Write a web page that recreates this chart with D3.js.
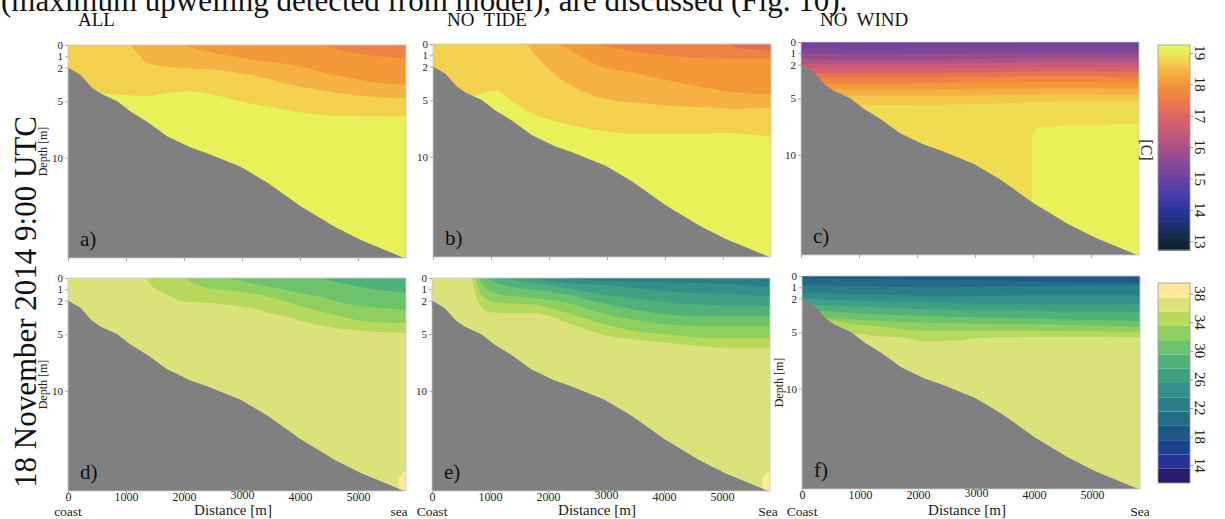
<!DOCTYPE html>
<html>
<head>
<meta charset="utf-8">
<script src="https://cdn.jsdelivr.net/npm/d3@7"></script>
<style>
  body { margin: 0; background: #fff; }
  svg { display: block; font-family: "Liberation Serif", "Times New Roman", serif; }
</style>
</head>
<body>
<div id="container"></div>
<script>
// ---- data ----
// shared seabed profile (distance [m], depth [m])
const seabedX = [0, 213, 415, 560, 850, 1077, 1365, 1710, 2113, 2400, 2976, 3437, 4013, 4590, 5050, 5800];
const seabedD = [2.0, 2.65, 3.8, 4.3, 5.0, 5.9, 6.8, 8.1, 9.1, 9.6, 10.8, 12.2, 14.3, 16.1, 17.3, 18.9];

const depthTicks = [0, 1, 2, 5, 10];
const distTicks = [0, 1000, 2000, 3000, 4000, 5000];
const tempTicks = [13, 14, 15, 16, 17, 18, 19];
const salTicks = [14, 18, 22, 26, 30, 34, 38];

// temperature colour map (thermal-like)
const tempStops  = [12.7, 13, 13.5, 14, 14.5, 15, 15.5, 16, 16.5, 17, 17.5, 18, 18.4, 18.7, 19, 19.25];
const tempColors = ["#0e2230", "#142838", "#1c2f70", "#2e349c", "#4a3ea8", "#6a42a0", "#8a4995", "#ab5188",
                    "#c65a78", "#dc6663", "#ee7b47", "#f49538", "#f5b343", "#f4cf4e", "#eaed55", "#e6f65c"];
// salinity colour bands (haline-like), 2-unit classes
const salThresholds = [13.5, 15.5, 17.5, 19.5, 21.5, 23.5, 25.5, 27.5, 29.5, 31.5, 33.5, 35.5, 37.5];
const salColors = ["#261e6a", "#28309a", "#1a458e", "#1d5889", "#246b87", "#2b7d88", "#338f88",
                   "#3ea184", "#50b27a", "#6cc36b", "#8ecf60", "#b6d95c", "#dbe27a", "#fde99c"];

// each band: value v, lower boundary [distance, depth] (filled from the surface)
// or [distance, top, bottom] for enclosed patches
const tempAllBase = 19.1;
const tempAll = [
  {v: 18.72, pts: [[0,4.6],[559,4.3],[1000,4.45],[1365,4.55],[1700,4.25],[2114,4.13],[2500,4.4],[2863,4.87],[3439,5.46],[4015,5.99],[4591,6.28],[5830,6.34]]},
  {v: 18.38, pts: [[1077,0],[1250,1.03],[1365,1.62],[1711,1.92],[2056,2.06],[2575,2.21],[3151,2.65],[3727,3.39],[4303,3.98],[4879,4.42],[5830,4.72]]},
  {v: 18.05, pts: [[1999,0],[2287,0.44],[2863,1.03],[3439,1.47],[4015,1.92],[4591,2.65],[5167,3.24],[5830,3.54]]},
  {v: 17.65, pts: [[4360,0],[4591,0.3],[5167,0.88],[5830,1.18]]}
];

const tempNoTideBase = 19.1;
const tempNoTide = [
  {v: 18.72, pts: [[0,5],[690,4.6],[1095,4.15],[1325,4.9],[1728,6.2],[2304,7.1],[2880,7.7],[3571,8.0],[4608,8.0],[4954,7.9],[5830,8.2]]},
  {v: 18.38, pts: [[1613,0],[1700,0.55],[1843,1.45],[2074,2.6],[2420,3.8],[2880,4.75],[3456,5.2],[4032,5.45],[4608,5.6],[5184,5.75],[5830,5.65]]},
  {v: 18.05, pts: [[2189,0],[2420,0.7],[2880,1.95],[3456,2.55],[4032,3.2],[4608,3.8],[5184,4.3],[5830,4.45]]},
  {v: 17.65, pts: [[2822,0],[3168,0.4],[3744,0.85],[4320,1.15],[5184,1.3],[5830,1.3]]},
  {v: 17.2,  pts: [[5126,0],[5300,0.4],[5830,0.55]]}
];

const tempNoWindBase = 18.82;
const tempNoWind = [
  {v: 19.1,  pts: [[3990,8.3,15],[4060,7.7,15],[4300,7.5,19],[5830,7.3,19]]},
  {v: 18.6,  pts: [[0,5.5],[1500,5.6],[3000,5.5],[4500,5.3],[5830,5.3]]},
  {v: 18.35, pts: [[0,4.8],[1500,4.8],[3000,4.75],[4500,4.65],[5830,4.7]]},
  {v: 18.05, pts: [[0,4.2],[1500,4.2],[3000,4.15],[4500,4.05],[5830,4.1]]},
  {v: 17.7,  pts: [[0,3.7],[1500,3.7],[3000,3.6],[4500,3.55],[5830,3.6]]},
  {v: 17.3,  pts: [[0,3.2],[1500,3.2],[3000,3.1],[4500,3.05],[5830,3.1]]},
  {v: 16.9,  pts: [[0,2.75],[1500,2.75],[3000,2.7],[4500,2.6],[5830,2.65]]},
  {v: 16.5,  pts: [[0,2.35],[1500,2.35],[3000,2.3],[4500,2.2],[5830,2.25]]},
  {v: 16.1,  pts: [[0,1.95],[1500,1.95],[3000,1.9],[4500,1.8],[5830,1.85]]},
  {v: 15.7,  pts: [[0,1.5],[1500,1.55],[3000,1.5],[4500,1.4],[5830,1.45]]},
  {v: 15.35, pts: [[0,1.05],[1500,1.1],[3000,1.05],[4500,1.0],[5830,1.0]]},
  {v: 15.1,  pts: [[0,0.55],[1500,0.6],[3000,0.55],[4500,0.5],[5830,0.5]]}
];

const salAllBase = 36.5;
const salAll = [
  {v: 38.5, pts: [[5700,17.8,19],[5830,17.0,19]]},
  {v: 34.5, pts: [[1365,0],[1451,0.74],[1711,1.48],[1999,2.07],[2575,2.28],[3151,2.66],[3727,3.4],[4303,4.14],[4879,4.59],[5830,4.88]]},
  {v: 32.5, pts: [[2027,0],[2287,0.74],[2863,1.18],[3439,1.63],[4015,2.5],[4591,3.25],[5167,3.85],[5830,4.0]]},
  {v: 30.5, pts: [[2748,0],[3151,0.44],[3727,1.04],[4303,1.63],[4879,2.37],[5830,2.81]]},
  {v: 28.5, pts: [[4389,0],[4591,0.3],[5167,0.89],[5830,1.33]]}
];

const salNoTideBase = 36.5;
const salNoTide = [
  {v: 38.5, pts: [[5700,17.8,19],[5830,17.0,19]]},
  {v: 34.5, pts: [[691,0],[731,1.03],[806,2.2],[950,2.95],[1181,3.1],[1757,3.1],[2045,3.4],[2333,4.0],[2621,4.5],[2909,5.0],[3485,5.46],[4061,5.75],[4637,6.05],[5213,6.2],[5830,6.2]]},
  {v: 32.5, pts: [[749,0],[806,1.03],[950,1.92],[1181,2.2],[1757,2.36],[2333,3.1],[2909,4.0],[3485,4.7],[4061,5.0],[4637,5.3],[5830,5.3]]},
  {v: 30.5, pts: [[806,0],[893,0.74],[1181,1.47],[1757,1.77],[2333,2.2],[2909,3.1],[3485,3.7],[4061,4.13],[4637,4.28],[5830,4.28]]},
  {v: 28.5, pts: [[950,0],[1181,0.59],[1757,1.03],[2333,1.47],[2909,2.2],[3485,2.8],[4061,3.24],[4637,3.4],[5830,3.4]]},
  {v: 26.5, pts: [[1181,0],[1757,0.44],[2333,0.88],[2909,1.47],[3485,1.77],[4061,2.2],[4637,2.36],[5830,2.5]]},
  {v: 24.5, pts: [[1757,0],[2045,0.3],[2909,0.59],[3485,0.88],[4061,1.18],[5213,1.47],[5830,1.62]]},
  {v: 22.5, pts: [[2333,0],[2621,0.15],[3485,0.3],[4637,0.44],[5830,0.74]]}
];

const salNoWindBase = 36.5;
const salNoWind = [
  {v: 34.5, pts: [[0,5.3],[996,5.15],[1169,5.3],[1745,5.45],[2148,5.8],[2609,5.75],[3185,5.45],[4049,5.4],[5201,5.4],[5830,5.45]]},
  {v: 32.5, pts: [[0,4.1],[478,3.95],[881,4.25],[1457,4.55],[2033,4.85],[2897,4.85],[4049,4.85],[5830,5.0]]},
  {v: 30.5, pts: [[0,3.6],[1000,3.9],[2500,4.2],[4000,4.3],[5830,4.5]]},
  {v: 28.5, pts: [[0,3.0],[1000,3.3],[2500,3.6],[4000,3.8],[5830,4.0]]},
  {v: 26.5, pts: [[0,2.5],[1000,2.7],[2500,3.0],[4000,3.1],[5830,3.2]]},
  {v: 24.5, pts: [[0,2.0],[1000,2.2],[2500,2.4],[4000,2.5],[5830,2.5]]},
  {v: 22.5, pts: [[0,1.5],[1000,1.6],[2500,1.8],[4000,1.7],[5830,1.7]]},
  {v: 20.5, pts: [[0,0.8],[1000,0.9],[2500,1.0],[4000,0.9],[5830,0.8]]},
  {v: 18.5, pts: [[0,0.2],[1500,0.3],[3000,0.35],[4500,0.5],[5830,0.6]]}
];

// ---- layout ----
const W = 1225, H = 519;
const pw = 338, ph = 213;
const xMax = 5830, dMax = 18.9;

const svg = d3.select("#container").append("svg")
  .attr("width", W).attr("height", H);

const tempColor = d3.scaleLinear().domain(tempStops).range(tempColors).clamp(true);
const salColor = d3.scaleThreshold().domain(salThresholds).range(salColors);

// cut-off line of the page text above the figure
svg.append("text").attr("x", 1).attr("y", 11)
  .attr("font-size", 31).attr("fill", "#111")
  .text("(maximum upwelling detected from model), are discussed (Fig. 10).");

let clipN = 0;
function drawPanel(px, py, base, layers, color, o) {
  const x = d3.scaleLinear().domain([0, xMax]).range([0, pw]);
  const y = d3.scaleLinear().domain([0, dMax]).range([0, ph]);
  const g = svg.append("g").attr("transform", `translate(${px},${py})`);
  const id = "clip" + (clipN++);
  g.append("clipPath").attr("id", id).append("rect").attr("width", pw).attr("height", ph);
  const body = g.append("g").attr("clip-path", `url(#${id})`);

  body.append("rect").attr("width", pw).attr("height", ph).attr("fill", color(base));

  const band = d3.area().curve(d3.curveMonotoneX)
    .x(p => x(p[0]))
    .y0(p => y(p.length > 2 ? p[1] : 0))
    .y1(p => y(p.length > 2 ? p[2] : p[1]));
  body.selectAll("path.band").data(layers).join("path")
    .attr("class", "band")
    .attr("d", l => band(l.pts))
    .attr("fill", l => color(l.v));

  const bed = d3.area().x(d => x(d[0])).y0(y(dMax)).y1(d => y(d[1]));
  body.append("path").datum(d3.zip(seabedX, seabedD))
    .attr("d", bed).attr("fill", "#808080");

  g.append("rect").attr("width", pw).attr("height", ph)
    .attr("fill", "none").attr("stroke", "#c8c8c8").attr("stroke-width", 0.8);

  // depth axis
  const ya = g.append("g").call(d3.axisLeft(y).tickValues(depthTicks).tickSize(3).tickPadding(2));
  ya.select(".domain").remove();
  ya.selectAll("line").attr("stroke", "#aaa");
  ya.selectAll("text").attr("font-family", "Liberation Serif").attr("font-size", 11).attr("fill", "#222");

  // distance axis
  const xa = g.append("g").attr("transform", `translate(0,${ph})`)
    .call(d3.axisBottom(x).tickValues(distTicks).tickSize(3).tickPadding(1)
      .tickFormat(o.xlabels ? d3.format("d") : ""));
  xa.select(".domain").remove();
  xa.selectAll("line").attr("stroke", "#aaa");
  xa.selectAll("text").attr("font-family", "Liberation Serif").attr("font-size", 12).attr("fill", "#222")
    .attr("y", d => d === 3000 ? -1 : 1);

  g.append("text").attr("x", 12).attr("y", ph - 12)
    .attr("font-size", 21).attr("fill", "#111").text(o.letter);

  if (o.depthLabel) {
    g.append("text").attr("transform", `translate(${o.depthLabelX},${ph / 2}) rotate(-90)`)
      .attr("text-anchor", "middle").attr("font-size", 12).attr("fill", "#222")
      .text("Depth [m]");
  }
  if (o.xlabels) {
    g.append("text").attr("x", 0).attr("y", H - 3 - py).attr("text-anchor", "middle")
      .attr("font-size", 13.5).attr("fill", "#222").text(o.coast);
    g.append("text").attr("x", pw - o.seaDx).attr("y", H - 3 - py).attr("text-anchor", "middle")
      .attr("font-size", 13.5).attr("fill", "#222").text(o.sea);
    g.append("text").attr("x", pw / 2 - 4).attr("y", H - 4 - py).attr("text-anchor", "middle")
      .attr("font-size", 15).attr("fill", "#222").text("Distance [m]");
  }
  if (o.title) {
    g.append("text").attr("x", o.titleDx).attr("y", 26 - py)
      .attr("font-size", 19).attr("fill", "#111")
      .attr("xml:space", "preserve").text(o.title);
  }
}

drawPanel(68, 45, tempAllBase, tempAll, tempColor, {letter: "a)", title: "ALL", titleDx: 10, depthLabel: true, depthLabelX: -21});
drawPanel(433, 44, tempNoTideBase, tempNoTide, tempColor, {letter: "b)", title: "NO  TIDE", titleDx: 14});
drawPanel(801, 42, tempNoWindBase, tempNoWind, tempColor, {letter: "c)", title: "NO  WIND", titleDx: 19});
drawPanel(68, 278, salAllBase, salAll, salColor, {letter: "d)", xlabels: true, coast: "coast", sea: "sea", seaDx: 7, depthLabel: true, depthLabelX: -21});
drawPanel(432, 278, salNoTideBase, salNoTide, salColor, {letter: "e)", xlabels: true, coast: "Coast", sea: "Sea", seaDx: 2});
drawPanel(802, 276, salNoWindBase, salNoWind, salColor, {letter: "f)", xlabels: true, coast: "Coast", sea: "Sea", seaDx: 0, depthLabel: true, depthLabelX: -19});

// big rotated date label
svg.append("text").attr("transform", "translate(36,302) rotate(-90)")
  .attr("text-anchor", "middle").attr("font-size", 31).attr("fill", "#111")
  .text("18 November 2014 9:00 UTC");

// temperature colour bar
const cbx = 1158, cbw = 32;
const tY = d3.scaleLinear().domain([19.25, 12.72]).range([45, 250]);
const tSlices = d3.range(64).map(i => tY.invert(45 + i * 205 / 64));
svg.append("g").selectAll("rect").data(tSlices).join("rect")
  .attr("x", cbx).attr("y", d => tY(d)).attr("width", cbw).attr("height", 205 / 64 + 0.6)
  .attr("fill", d => tempColor(d - 0.05));
svg.append("rect").attr("x", cbx).attr("y", 45).attr("width", cbw).attr("height", 205)
  .attr("fill", "none").attr("stroke", "#999").attr("stroke-width", 0.8);
const tAx = svg.append("g").attr("transform", `translate(${cbx + cbw},0)`)
  .call(d3.axisRight(tY).tickValues(tempTicks).tickSize(3).tickFormat(""));
tAx.select(".domain").remove();
tAx.selectAll("line").attr("stroke", "#999");
svg.append("g").selectAll("text").data(tempTicks).join("text")
  .attr("transform", d => `translate(1195,${tY(d)}) rotate(90)`)
  .attr("text-anchor", "middle").attr("font-size", 15).attr("fill", "#222").text(d => d);
svg.append("text").attr("transform", "translate(1141,150) rotate(90)")
  .attr("text-anchor", "middle").attr("font-size", 16).attr("fill", "#222").text("[C]");

// salinity colour bar
const sY = d3.scaleLinear().domain([39.5, 11.5]).range([283, 483]);
const sBands = salColors.map((c, i) => i === 0 ? 11.5 : salThresholds[i - 1]);
svg.append("g").selectAll("rect").data(sBands).join("rect")
  .attr("x", cbx).attr("y", d => sY(d + 2)).attr("width", cbw)
  .attr("height", d => sY(d) - sY(d + 2))
  .attr("fill", d => salColor(d + 1));
svg.append("rect").attr("x", cbx).attr("y", 283).attr("width", cbw).attr("height", 200)
  .attr("fill", "none").attr("stroke", "#999").attr("stroke-width", 0.8);
const sAx = svg.append("g").attr("transform", `translate(${cbx + cbw},0)`)
  .call(d3.axisRight(sY).tickValues(salTicks).tickSize(3).tickFormat(""));
sAx.select(".domain").remove();
sAx.selectAll("line").attr("stroke", "#999");
svg.append("g").selectAll("text").data(salTicks).join("text")
  .attr("transform", d => `translate(1195,${sY(d)}) rotate(90)`)
  .attr("text-anchor", "middle").attr("font-size", 15).attr("fill", "#222").text(d => d);
</script>
</body>
</html>
